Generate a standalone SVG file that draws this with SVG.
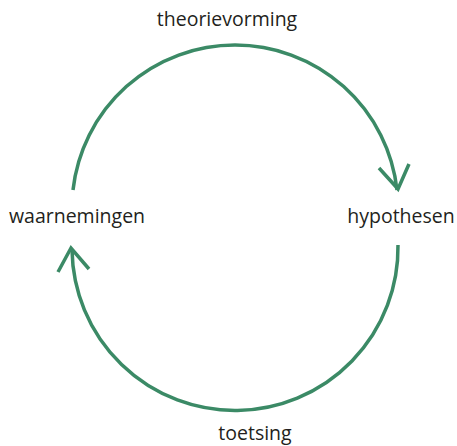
<svg xmlns="http://www.w3.org/2000/svg" width="457" height="446" viewBox="0 0 457 446">
<style>
.lbl{font-family:"Open Sans","Noto Sans",sans-serif;font-size:19.5px;fill:#231f20;text-anchor:middle}
.arc{fill:none;stroke:#3b8a66;stroke-width:3.5;stroke-linecap:butt;stroke-linejoin:miter}
</style>
<rect width="457" height="446" fill="#fff"/>
<g id="connectors">
<path class="arc" d="M73,190 A163,163 0 0 1 397,190"/>
<polyline class="arc" points="379,168 398,189 409,164"/>
<path class="arc" d="M398,245 A163,163 0 0 1 72,250"/>
<polyline class="arc" points="58,272 71,248 89,269"/>
</g>
<g id="theorievorming"><text class="lbl" x="227" y="26">theorievorming</text></g>
<g id="hypothesen"><text class="lbl" x="401" y="223">hypothesen</text></g>
<g id="waarnemingen"><text class="lbl" x="77" y="223">waarnemingen</text></g>
<g id="toetsing"><text class="lbl" x="255" y="440">toetsing</text></g>
</svg>
